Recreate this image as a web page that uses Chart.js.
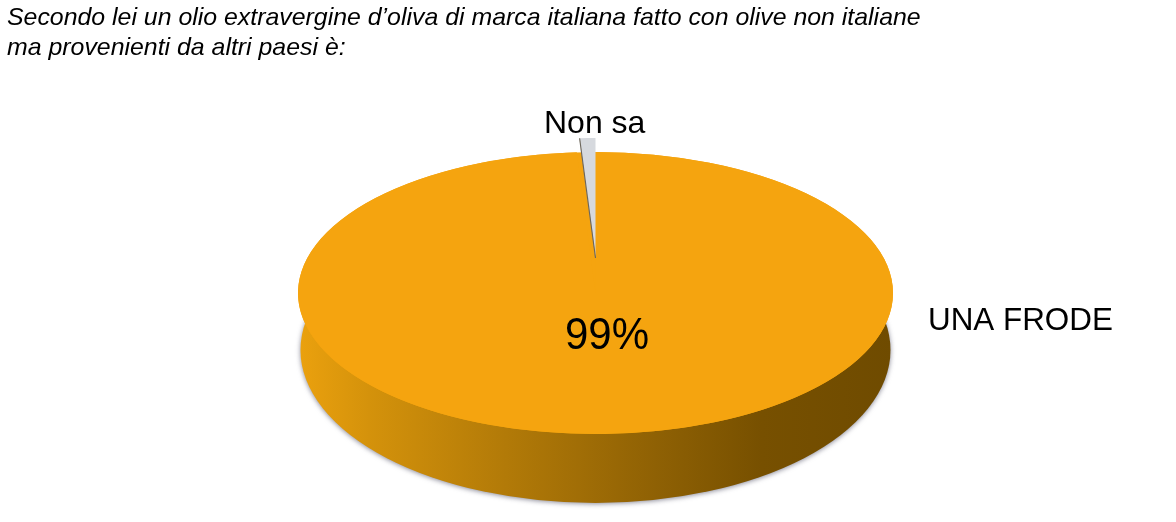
<!DOCTYPE html>
<html>
<head>
<meta charset="utf-8">
<script src="https://cdn.jsdelivr.net/npm/chart.js@4"></script>
<style>
html, body { margin: 0; padding: 0; background: #fff; }
#wrap { width: 1176px; height: 522px; }
</style>
</head>
<body>
<div id="wrap"><canvas id="grafico" width="1176" height="522"></canvas></div>
<script>
var titolo = ['Secondo lei un olio extravergine d\u2019oliva di marca italiana fatto con olive non italiane', 'ma provenienti da altri paesi \u00e8:'];
var categorie = ['UNA FRODE', 'Non sa'];
var valori = [99, 1];
var colori = ['#f5a40f', '#d6d9de'];

// ellipse of the pie top on the page
var pieX = 595.5, pieY = 293, pieRx = 297.5, pieRy = 141;
// small slice: lifted and shorter, as a part of the pie radius
var sollevaFetta = 0.248;
var accorciaFetta = 0.851;

function testo(ctx, s, x, y, font, sx, sy) {
    ctx.save();
    ctx.translate(x, y);
    ctx.scale(sx, sy);
    ctx.font = font;
    ctx.fillText(s, 0, 0);
    ctx.restore();
}

var pie3d = {
    id: 'pie3d',
    afterDatasetsUpdate: function (chart) {
        var el = chart.getDatasetMeta(0).data[1];
        el.y -= el.outerRadius * sollevaFetta;
        el.outerRadius = el.outerRadius * accorciaFetta;
    },
    beforeDatasetsDraw: function (chart) {
        var ctx = chart.ctx;
        var el = chart.getDatasetMeta(0).data[0];

        // side wall
        var g = ctx.createLinearGradient(pieX - pieRx, 0, pieX + pieRx, 0);
        g.addColorStop(0, '#eba10e');
        g.addColorStop(0.12, '#d4920b');
        g.addColorStop(0.35, '#b27a08');
        g.addColorStop(0.6, '#8f6104');
        g.addColorStop(0.78, '#775000');
        g.addColorStop(1, '#6f4b00');
        ctx.save();
        ctx.shadowColor = 'rgba(90,90,110,0.7)';
        ctx.shadowBlur = 5;
        ctx.shadowOffsetY = 1;
        ctx.fillStyle = g;
        ctx.beginPath();
        ctx.ellipse(pieX, 350, 295, 153, 0, 0, Math.PI * 2);
        ctx.fill();
        ctx.restore();

        // base of the top face, closes the notch left by the small slice
        ctx.fillStyle = colori[0];
        ctx.beginPath();
        ctx.ellipse(pieX, pieY, pieRx, pieRy, 0, 0, Math.PI * 2);
        ctx.fill();

        // squash the round pie of the library to the ellipse
        ctx.save();
        ctx.translate(pieX, pieY);
        ctx.scale(pieRx / el.outerRadius, pieRy / el.outerRadius);
        ctx.translate(-el.x, -el.y);
    },
    afterDatasetsDraw: function (chart) {
        var ctx = chart.ctx;
        var f = chart.getDatasetMeta(0).data[1];

        // dark side of the small slice
        ctx.strokeStyle = '#6d675c';
        ctx.lineWidth = 1;
        ctx.beginPath();
        ctx.moveTo(f.x, f.y);
        ctx.lineTo(f.x + Math.cos(f.startAngle) * f.outerRadius, f.y + Math.sin(f.startAngle) * f.outerRadius);
        ctx.stroke();
        ctx.restore();

        // labels and title
        ctx.fillStyle = '#000';
        ctx.textBaseline = 'alphabetic';
        ctx.textAlign = 'left';
        testo(ctx, categorie[1], 544, 133, '32px "Liberation Sans"', 1, 1);
        testo(ctx, categorie[0], 928, 330, '31.4px "Liberation Sans"', 1, 1);
        testo(ctx, valori[0] + '%', 565, 349, '42px "Liberation Sans"', 1, 1.06);
        testo(ctx, titolo[0], 7, 25, 'italic 24px "Liberation Sans"', 1.036, 1);
        testo(ctx, titolo[1], 7, 55, 'italic 24px "Liberation Sans"', 1.036, 1);
    }
};

new Chart(document.getElementById('grafico'), {
    type: 'pie',
    data: {
        labels: categorie,
        datasets: [{
            data: valori,
            backgroundColor: colori,
            borderWidth: 0
        }]
    },
    options: {
        responsive: false,
        animation: false,
        plugins: {
            legend: { display: false },
            tooltip: { enabled: false }
        }
    },
    plugins: [pie3d]
});
</script>
</body>
</html>
